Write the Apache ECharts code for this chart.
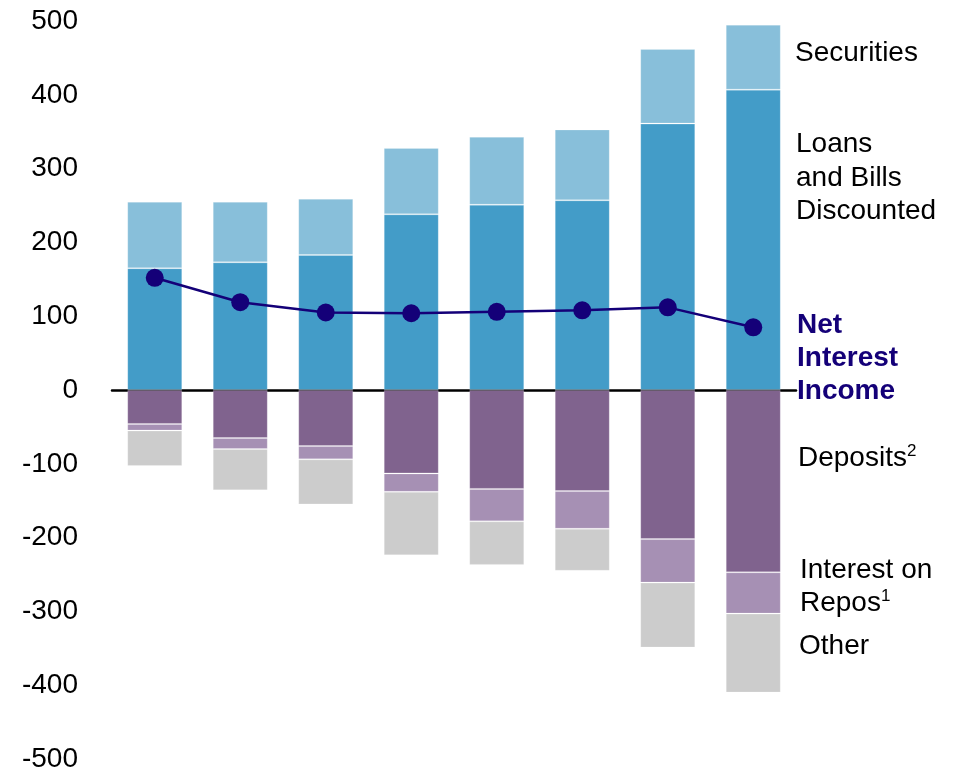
<!DOCTYPE html>
<html>
<head>
<meta charset="utf-8">
<script src="https://cdn.jsdelivr.net/npm/echarts@6/dist/echarts.min.js"></script>
<style>
html,body{margin:0;padding:0;background:#fff;}
#chart{width:954px;height:775px;}
</style>
</head>
<body>
<div id="chart"></div>
<script>
var categories = ['1','2','3','4','5','6','7','8'];
var loans = [165, 173, 183, 238, 251, 257, 361, 407];
var securities = [90, 82, 76, 90, 92, 96, 101, 88];
var deposits = [-46, -65, -76, -113, -134, -137, -202, -247];
var repos = [-9, -15, -18, -25, -44, -51, -59, -56];
var other = [-48, -56, -61, -86, -59, -57, -88, -107];
var netInterest = [152, 119, 105, 104, 106, 108, 112, 85];
var yTicks = [-500, 500, 100];

var FONT = '"Liberation Sans", Arial, sans-serif';
var chart = echarts.init(document.getElementById('chart'), null, {renderer:'canvas'});

function barSeries(name, data, color) {
  return {
    name: name, type: 'bar', stack: 'all', data: data, barWidth: 55,
    itemStyle: {color: color, borderColor: 'rgba(255,255,255,0.2)', borderWidth: 1},
    emphasis: {disabled: true}, z: 2
  };
}

function label(x, y, text, opts) {
  opts = opts || {};
  return {
    type: 'text', x: x, y: y, z: 100,
    style: {
      text: text, fill: opts.color || '#000',
      font: (opts.bold ? 'bold ' : '') + (opts.size || 28) + 'px ' + FONT,
      textVerticalAlign: 'middle', lineHeight: opts.lineHeight || 33
    }
  };
}

chart.setOption({
  animation: false,
  backgroundColor: '#fff',
  grid: {left: 112, width: 684, top: 21, height: 738, containLabel: false},
  xAxis: {
    type: 'category', data: categories,
    axisLine: {show: true, onZero: true, lineStyle: {color: '#000', width: 2.5}},
    axisTick: {show: false}, axisLabel: {show: false}, splitLine: {show: false}
  },
  yAxis: {
    type: 'value', min: yTicks[0], max: yTicks[1], interval: yTicks[2],
    axisLine: {show: false}, axisTick: {show: false}, splitLine: {show: false},
    axisLabel: {color: '#000', fontSize: 28, fontFamily: FONT, margin: 34, padding: [4, 0, 0, 0]}
  },
  series: [
    barSeries('Loans and Bills Discounted', loans, '#439CC8'),
    barSeries('Securities', securities, '#88BFDA'),
    barSeries('Deposits', deposits, '#80638E'),
    barSeries('Interest on Repos', repos, '#A690B4'),
    barSeries('Other', other, '#CCCCCC'),
    {
      name: 'Net Interest Income', type: 'line', data: netInterest, z: 10,
      symbol: 'circle', symbolSize: 18,
      lineStyle: {color: '#140078', width: 2.5},
      itemStyle: {color: '#140078'}
    }
  ],
  graphic: [
    label(795, 53, 'Securities'),
    label(796, 144, 'Loans'),
    label(796, 178, 'and Bills'),
    label(796, 211, 'Discounted'),
    label(797, 325, 'Net', {bold: true, color: '#140078'}),
    label(797, 358, 'Interest', {bold: true, color: '#140078'}),
    label(797, 391, 'Income', {bold: true, color: '#140078'}),
    label(798, 458, 'Deposits'),
    label(907, 451, '2', {size: 17}),
    label(800, 570, 'Interest on'),
    label(800, 603, 'Repos'),
    label(881, 596, '1', {size: 17}),
    label(799, 646, 'Other')
  ]
});
</script>
</body>
</html>
